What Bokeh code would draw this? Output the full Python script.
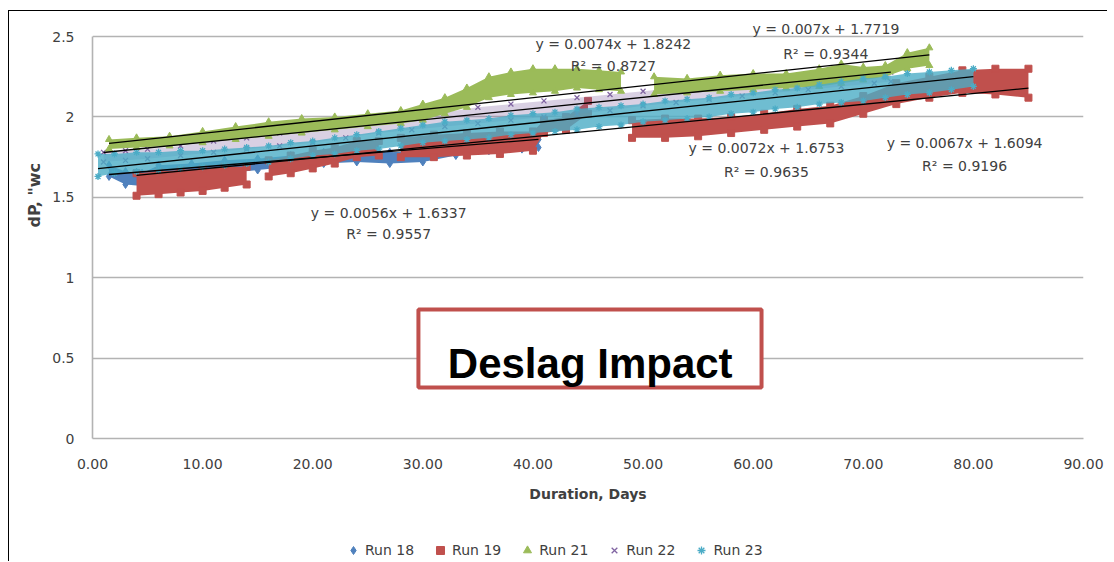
import math
from bokeh.plotting import figure
from bokeh.layouts import column
from bokeh.models import Range1d, FixedTicker, Label, BoxAnnotation, Legend, LegendItem, Title
from bokeh.embed import file_html
from bokeh.resources import INLINE

NaN = float("nan")

# ---------------- data ----------------
runs = ["Run 18", "Run 19", "Run 21", "Run 22", "Run 23"]

run18_day = [1.5, 3, 4.5, 6, 9, 12, 15, 18, 21, 24, 27, 30, 33, 36, 39, 40.5]
run18_lo = [1.63, 1.58, 1.57, 1.62, 1.64, 1.65, 1.67, 1.69, 1.71, 1.72, 1.71, 1.72, 1.76, 1.79, 1.80, 1.81]
run18_hi = [1.70, 1.66, 1.65, 1.70, 1.71, 1.73, 1.74, 1.76, 1.78, 1.79, 1.78, 1.79, 1.83, 1.86, 1.87, 1.86]

run19_day = [4, 6, 8, 10, 12, 14, NaN, 16, 18, 20, 22, 24, 26, NaN, 28, 31, 34, 37, 40, 41, 43, 45, NaN,
             49, 52, 55, 58, 61, 64, 67, 70, 73, 76, 79, 82, 85]
run19_lo = [1.51, 1.52, 1.53, 1.54, 1.56, 1.58, NaN, 1.63, 1.65, 1.68, 1.71, 1.75, 1.76, NaN, 1.75, 1.75, 1.76, 1.77, 1.79, 1.90, 1.92, 2.02, NaN,
            1.87, 1.87, 1.88, 1.90, 1.92, 1.94, 1.96, 2.02, 2.08, 2.12, 2.15, 2.14, 2.12]
run19_hi = [1.65, 1.66, 1.67, 1.68, 1.69, 1.69, NaN, 1.73, 1.76, 1.79, 1.81, 1.85, 1.85, NaN, 1.87, 1.89, 1.90, 1.91, 1.91, 1.98, 2.00, 2.10, NaN,
            1.98, 1.99, 1.99, 2.00, 2.02, 2.05, 2.07, 2.13, 2.21, 2.25, 2.29, 2.30, 2.30]

run21_day = [1.5, 4, 7, 10, 13, 16, 19, 22, 25, 28, 30, 32, 34, 36, 38, 40, 42, 44, 46, 48, NaN,
             51, 54, 57, 60, 63, 66, 68, 70, 72, 74, 76]
run21_lo = [1.80, 1.81, 1.82, 1.84, 1.86, 1.88, 1.90, 1.92, 1.94, 1.96, 1.98, 2.02, 2.06, 2.12, 2.14, 2.15, 2.16, 2.18, 2.17, 2.16, NaN,
            2.14, 2.15, 2.16, 2.17, 2.18, 2.19, 2.21, 2.23, 2.25, 2.30, 2.32]
run21_hi = [1.86, 1.87, 1.88, 1.91, 1.94, 1.97, 1.99, 2.00, 2.02, 2.04, 2.08, 2.12, 2.18, 2.25, 2.28, 2.30, 2.30, 2.30, 2.29, 2.28, NaN,
            2.25, 2.24, 2.26, 2.27, 2.27, 2.30, 2.33, 2.31, 2.32, 2.40, 2.43]

run22_day = [1, 3, 5, 8, 11, 14, 17, 20, 23, 26, 29, 32, 35, 38, 41, 44, 47, 50, 53, 56, 59, 62, 65, 68, 71, 72.5]
run22_lo = [1.72, 1.73, 1.74, 1.76, 1.78, 1.80, 1.82, 1.84, 1.87, 1.90, 1.92, 1.94, 1.96, 1.98, 2.00, 2.02, 2.04, 2.07, 2.09, 2.11, 2.13, 2.15, 2.17, 2.19, 2.21, 2.22]
run22_hi = [1.78, 1.79, 1.80, 1.82, 1.85, 1.87, 1.90, 1.93, 1.95, 1.98, 2.00, 2.03, 2.06, 2.08, 2.10, 2.12, 2.14, 2.16, 2.18, 2.20, 2.22, 2.24, 2.26, 2.28, 2.29, 2.28]

run23_day = [0.5, 2, 4, 6, 8, 10, 12, 14, 16, 18, 20, 22, 24, 26, 28, 30, 32, 34, 36, 38, 40,
             42, 44, 46, 48, 50, 52, 54, 56, 58, 60, 62, 64, 66, 68, 70, 72, 74, 76, 78, 80]
run23_lo = [1.63, 1.65, 1.66, 1.67, 1.68, 1.69, 1.70, 1.71, 1.72, 1.74, 1.76, 1.77, 1.79, 1.80, 1.82, 1.84, 1.85, 1.86, 1.87, 1.89, 1.90,
            1.91, 1.92, 1.94, 1.95, 1.97, 1.98, 1.99, 2.00, 2.02, 2.03, 2.05, 2.06, 2.08, 2.09, 2.10, 2.12, 2.14, 2.15, 2.17, 2.19]
run23_hi = [1.77, 1.77, 1.78, 1.78, 1.79, 1.79, 1.80, 1.81, 1.82, 1.84, 1.85, 1.87, 1.89, 1.91, 1.93, 1.95, 1.97, 1.98, 1.99, 2.01, 2.02,
            2.03, 2.05, 2.06, 2.07, 2.08, 2.10, 2.11, 2.12, 2.14, 2.15, 2.17, 2.18, 2.20, 2.22, 2.24, 2.25, 2.27, 2.28, 2.29, 2.30]

trend_slope = [0.0056, 0.0067, 0.0074, 0.007, 0.0072]
trend_intercept = [1.6337, 1.6094, 1.8242, 1.7719, 1.6753]
trend_r2 = [0.9557, 0.9196, 0.8727, 0.9344, 0.9635]

x_ticks = [0, 10, 20, 30, 40, 50, 60, 70, 80, 90]
x_tick_labels = ["0.00", "10.00", "20.00", "30.00", "40.00", "50.00", "60.00", "70.00", "80.00", "90.00"]
y_ticks = [0, 0.5, 1, 1.5, 2, 2.5]
y_tick_labels = ["0", "0.5", "1", "1.5", "2", "2.5"]

x_title = "Duration, Days"
y_title = 'dP, "wc'
note_text = "Deslag Impact"

# ---------------- styles / layout ----------------
COLORS = ["#4f81bd", "#c0504d", "#9bbb59", "#8064a2", "#4bacc6"]
MARKERS = ["diamond", "square", "triangle", "x", "asterisk"]
MSIZE = [8, 7, 7, 7, 7]
BAND_ALPHA = [1.0, 1.0, 1.0, 0.3, 0.8]
DRAW_ORDER = [0, 1, 3, 2, 4]
TXT = "#404040"
GRID = "#b3b3b3"
FONT = "DejaVu Sans"

# equation label anchors (data coords): (x, y_eq, y_r2)
EQ_POS = [(26.9, 1.405, 1.275), (79.2, 1.841, 1.692), (47.3, 2.456, 2.32), (66.6, 2.55, 2.394), (61.2, 1.81, 1.66)]

series = [
    (run18_day, run18_lo, run18_hi),
    (run19_day, run19_lo, run19_hi),
    (run21_day, run21_lo, run21_hi),
    (run22_day, run22_lo, run22_hi),
    (run23_day, run23_lo, run23_hi),
]

W = 1098
p = figure(width=W, height=522, output_backend="svg", toolbar_location=None,
           x_range=Range1d(0, 90), y_range=Range1d(0, 2.6),
           min_border_left=83, min_border_right=24, min_border_top=9, min_border_bottom=95)
p.background_fill_color = "white"
p.border_fill_color = "white"
p.outline_line_color = None

# grid
p.xgrid.grid_line_color = None
p.ygrid.ticker = FixedTicker(ticks=y_ticks)
p.ygrid.grid_line_color = GRID
p.ygrid.grid_line_width = 1.6

# axes
for ax in (p.xaxis[0], p.yaxis[0]):
    ax.axis_line_color = GRID
    ax.axis_line_width = 1.6
    ax.major_tick_line_color = None
    ax.minor_tick_line_color = None
    ax.major_tick_out = 0
    ax.major_tick_in = 0
    ax.major_label_text_font = FONT
    ax.major_label_text_font_size = "14px"
    ax.major_label_text_color = TXT

p.xaxis.ticker = FixedTicker(ticks=x_ticks)
p.xaxis.major_label_overrides = {t: l for t, l in zip(x_ticks, x_tick_labels)}
p.xaxis.bounds = (0, 90)
p.xaxis.major_label_standoff = 20
p.xaxis.axis_label = x_title
p.xaxis.axis_label_standoff = 14
p.xaxis.axis_label_text_font = FONT
p.xaxis.axis_label_text_font_size = "14px"
p.xaxis.axis_label_text_font_style = "bold"
p.xaxis.axis_label_text_color = TXT

p.yaxis.ticker = FixedTicker(ticks=y_ticks)
p.yaxis.major_label_overrides = {t: l for t, l in zip(y_ticks, y_tick_labels)}
p.yaxis.bounds = (0, 2.5)
p.yaxis.major_label_standoff = 18

p.add_layout(Title(text=y_title, align="left", offset=211, text_font=FONT, text_font_size="16px",
                   text_font_style="bold", text_color=TXT, standoff=12), "left")


def segments(day, lo, hi):
    seg = ([], [], [])
    for d, a, b in zip(day, lo, hi):
        if math.isnan(d):
            if seg[0]:
                yield seg
            seg = ([], [], [])
        else:
            seg[0].append(d); seg[1].append(a); seg[2].append(b)
    if seg[0]:
        yield seg


def marker_kw(i, size=None):
    kw = dict(marker=MARKERS[i], size=size or MSIZE[i], line_color=COLORS[i], fill_color=COLORS[i])
    if MARKERS[i] in ("x", "asterisk"):
        kw["line_width"] = 1.3
    return kw


for i in DRAW_ORDER:
    day, lo, hi = series[i]
    for sd, sl, sh in segments(day, lo, hi):
        p.varea(x=sd, y1=sl, y2=sh, fill_color=COLORS[i], fill_alpha=BAND_ALPHA[i])
    p.scatter(day, lo, **marker_kw(i))
    p.scatter(day, hi, **marker_kw(i))

# trendlines
for i, (day, lo, hi) in enumerate(series):
    ds = [d for d in day if not math.isnan(d)]
    x0, x1 = min(ds), max(ds)
    p.line([x0, x1], [trend_slope[i] * x0 + trend_intercept[i], trend_slope[i] * x1 + trend_intercept[i]],
           line_color="black", line_width=1.3)

# equation labels
for i in range(5):
    x, ye, yr = EQ_POS[i]
    p.add_layout(Label(x=x, y=ye, text=f"y = {trend_slope[i]}x + {trend_intercept[i]}",
                       text_align="center", text_baseline="middle", text_font=FONT,
                       text_font_size="14px", text_color=TXT))
    p.add_layout(Label(x=x, y=yr, text=f"R\u00b2 = {trend_r2[i]}",
                       text_align="center", text_baseline="middle", text_font=FONT,
                       text_font_size="14px", text_color=TXT))

# annotation box
p.add_layout(BoxAnnotation(left=29.6, right=60.76, bottom=0.317, top=0.802,
                           fill_color="white", fill_alpha=1.0,
                           line_color="#c0504d", line_width=4, line_alpha=1.0))
p.add_layout(Label(x=45.2, y=0.466, text=note_text, text_align="center", text_baseline="alphabetic",
                   text_font="Liberation Sans", text_font_size="42px", text_font_style="bold",
                   text_color="black"))

# ---------------- legend strip (separate small figure below) ----------------
LH = 28
lg = figure(width=W, height=LH, output_backend="svg", toolbar_location=None,
            x_range=Range1d(0, 1), y_range=Range1d(0, 1),
            x_axis_location=None, y_axis_location=None,
            min_border_left=0, min_border_right=0, min_border_top=0, min_border_bottom=0)
lg.outline_line_color = None
lg.grid.grid_line_color = None
lg.background_fill_color = "white"
lg.border_fill_color = "white"
items = []
for i in range(5):
    # one hidden (NaN) sample so the legend can draw the marker
    r = lg.scatter([NaN], [NaN], **marker_kw(i, size=10))
    items.append(LegendItem(label=runs[i], renderers=[r]))
legend = Legend(items=items, orientation="horizontal", location=(251, 1),
                label_text_font=FONT, label_text_font_size="14px", label_text_color=TXT,
                glyph_width=20, glyph_height=20, label_standoff=2, spacing=16,
                padding=0, margin=0, border_line_color=None, background_fill_alpha=0)
lg.add_layout(legend, "center")

layout = column(p, lg, spacing=0)
layout.styles = {"margin-left": "8px", "margin-top": "10px",
                 "border-top": "1px solid black", "border-left": "1px solid black"}

open("out.html", "w").write(file_html(layout, INLINE))
